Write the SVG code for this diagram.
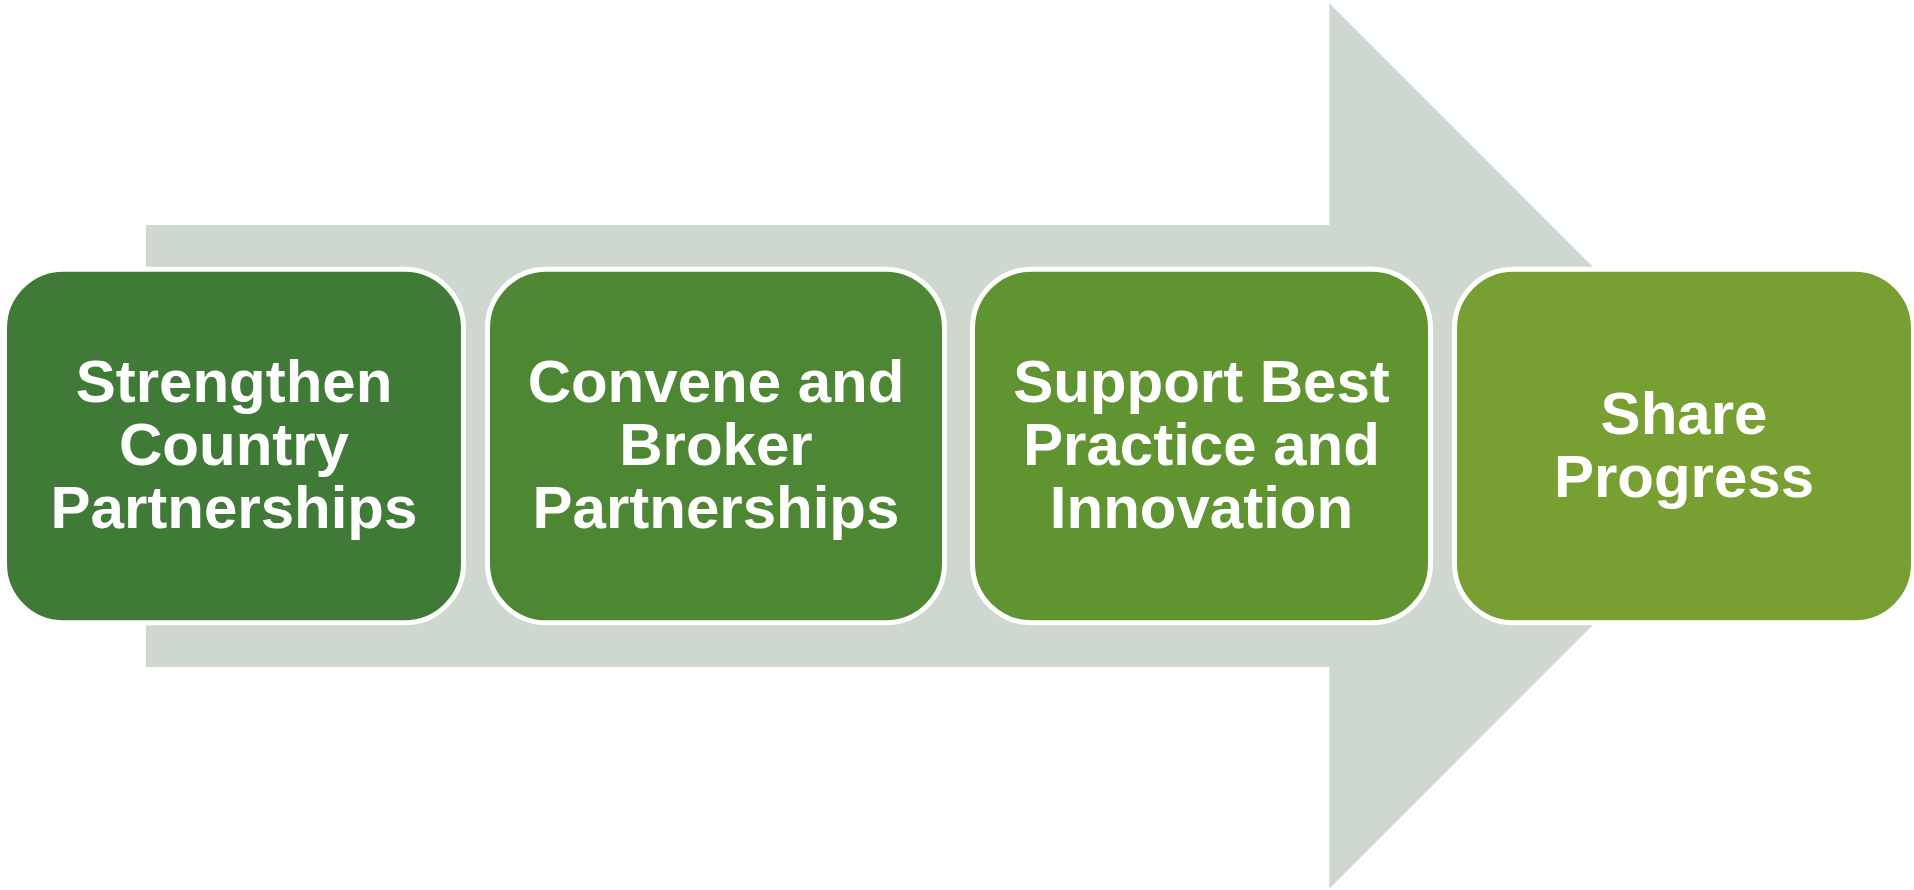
<svg xmlns="http://www.w3.org/2000/svg" width="1914" height="890" viewBox="0 0 1914 890">
<style>
.box{stroke:#FFFFFF;stroke-width:5}
.lbl{font-family:"Liberation Sans",Arial,sans-serif;font-weight:bold;font-size:60px;fill:#FFFFFF;text-anchor:middle}
</style>
<rect x="0" y="0" width="1914" height="890" fill="#FFFFFF"/>
<g id="connectors">
<polygon id="arrow" points="146,225 1329.3,225 1329.3,3.3 1772,446 1329.3,888.7 1329.3,667 146,667" fill="#CFD8CF"/>
</g>
<g id="node1">
<rect class="box" x="4.5" y="269.2" width="459" height="353.6" rx="59" ry="59" fill="#3F7B36"/>
<text class="lbl" x="234" y="402">Strengthen</text>
<text class="lbl" x="234" y="465">Country</text>
<text class="lbl" x="234" y="528">Partnerships</text>
</g>
<g id="node2">
<rect class="box" x="487.5" y="269.2" width="457" height="353.6" rx="59" ry="59" fill="#4E8734"/>
<text class="lbl" x="716" y="402">Convene and</text>
<text class="lbl" x="716" y="465">Broker</text>
<text class="lbl" x="716" y="528">Partnerships</text>
</g>
<g id="node3">
<rect class="box" x="972.5" y="269.2" width="458" height="353.6" rx="59" ry="59" fill="#609431"/>
<text class="lbl" x="1201.5" y="402">Support Best</text>
<text class="lbl" x="1201.5" y="465">Practice and</text>
<text class="lbl" x="1201.5" y="528">Innovation</text>
</g>
<g id="node4">
<rect class="box" x="1454.5" y="269.2" width="459" height="353.6" rx="59" ry="59" fill="#789F32"/>
<text class="lbl" x="1684" y="433.5">Share</text>
<text class="lbl" x="1684" y="496.5">Progress</text>
</g>
</svg>
